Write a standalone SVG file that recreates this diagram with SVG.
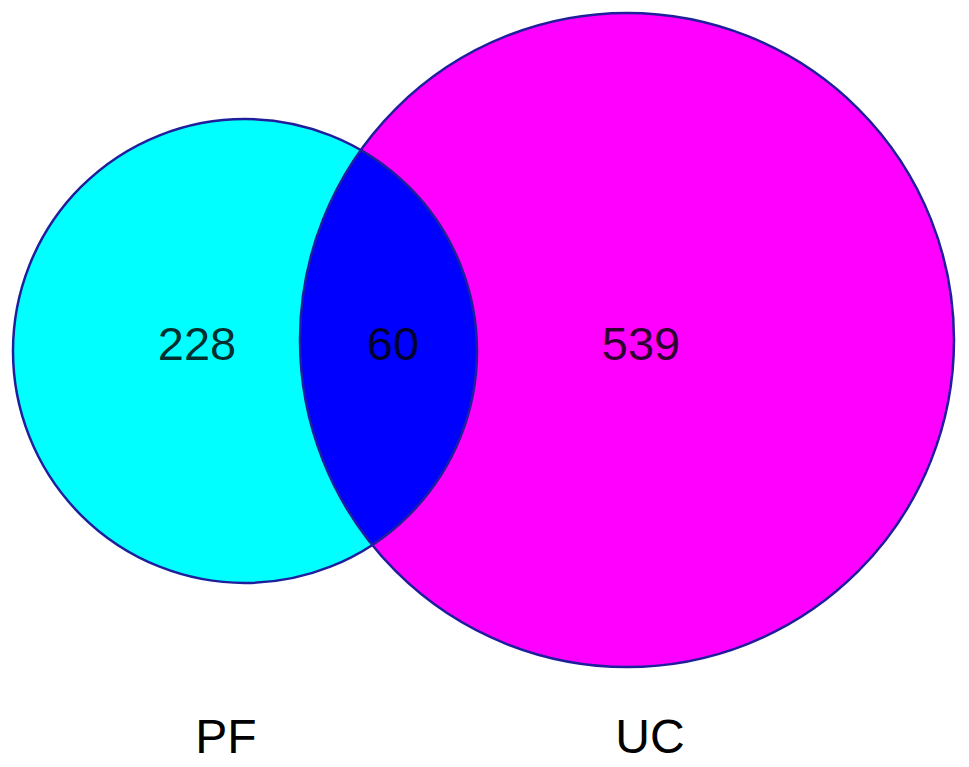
<svg xmlns="http://www.w3.org/2000/svg" width="969" height="767" viewBox="0 0 969 767">
<style>
.edge{fill:none;stroke:#1f1f9e;stroke-width:2.5}
.num{font-family:"Liberation Sans",Arial,sans-serif;font-size:47px;text-anchor:middle;fill:#000;fill-opacity:0.82}
.lab{font-family:"Liberation Sans",Arial,sans-serif;font-size:48px;text-anchor:middle;fill:#000}
</style>
<defs>
<clipPath id="clipUC"><circle cx="627" cy="340" r="327"/></clipPath>
</defs>
<rect width="969" height="767" fill="#fff"/>
<g id="PF">
<circle cx="245" cy="351" r="232" fill="#00ffff"/>
</g>
<g id="UC">
<circle cx="627" cy="340" r="327" fill="#ff00ff"/>
</g>
<g id="overlap">
<circle cx="245" cy="351" r="232" fill="#0000ff" clip-path="url(#clipUC)"/>
</g>
<g id="outlines">
<circle class="edge" cx="245" cy="351" r="232"/>
<circle class="edge" cx="627" cy="340" r="327"/>
</g>
<g id="labels">
<text class="num" x="197" y="360">228</text>
<text class="num" x="393" y="360">60</text>
<text class="num" x="641" y="360">539</text>
<text class="lab" x="226" y="753">PF</text>
<text class="lab" x="650" y="753">UC</text>
</g>
</svg>
